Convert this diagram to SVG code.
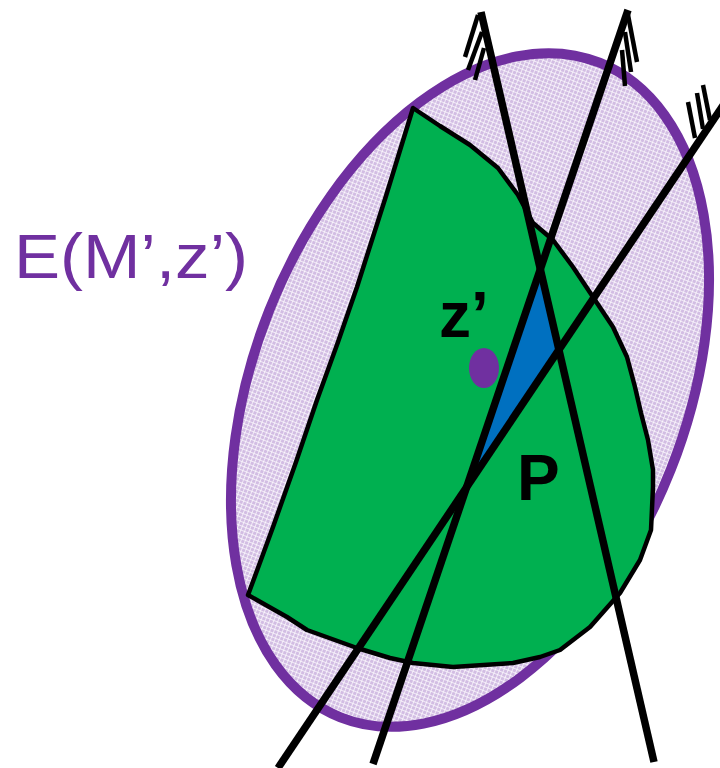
<svg xmlns="http://www.w3.org/2000/svg" width="720" height="768" viewBox="0 0 720 768">
<defs>
<pattern id="grid" width="4" height="4" patternUnits="userSpaceOnUse">
<rect width="4" height="4" fill="#d2bde3"/>
<rect width="1" height="4" fill="#ffffff" opacity="0.7"/>
<rect width="4" height="1" fill="#ffffff" opacity="0.7"/>
</pattern>
<style>
.ln{stroke:#000;stroke-width:7.5;fill:none;stroke-linecap:butt}
.ht{stroke:#000;stroke-width:4.5;fill:none;stroke-linecap:butt}
.big{font-family:"Liberation Sans",Arial,sans-serif;font-weight:bold;fill:#000}
</style>
</defs>
<rect width="720" height="768" fill="#ffffff"/>
<g id="ellipse-E">
<ellipse cx="470" cy="390" rx="216" ry="352" transform="rotate(21.6 470 390)" fill="url(#grid)" stroke="#7030A0" stroke-width="10"/>
</g>
<g id="region-P">
<polygon points="413,108 440,126 470,145 498,168 518,195 533,223 553,240 573,267 593,297 613,327 627,357 635,387 641,413 648,440 653,470 653,487 651,530 640,560 620,593 590,627 560,650 540,657 513,663 453,667 413,663 390,658 357,648 307,630 287,617 248,595 262,557 273,527 296,462 317,400 338,342 357,287 386,196 413,108" fill="#00B050" stroke="#000" stroke-width="4.5" stroke-linejoin="round"/>
</g>
<g id="triangle">
<polygon points="540,269 559,350 466,488" fill="#0070C0"/>
</g>
<g id="connectors">
<line class="ln" x1="481" y1="12" x2="654" y2="762"/>
<line class="ht" x1="478" y1="15" x2="465" y2="57"/>
<line class="ht" x1="482" y1="32" x2="468" y2="70"/>
<line class="ht" x1="484" y1="48" x2="475" y2="80"/>
<line class="ln" x1="628" y1="10" x2="373" y2="764"/>
<line class="ht" x1="628" y1="15" x2="637" y2="62"/>
<line class="ht" x1="625" y1="32" x2="631" y2="72"/>
<line class="ht" x1="622" y1="50" x2="625" y2="86"/>
<line class="ln" x1="724" y1="104" x2="278" y2="768"/>
<line class="ht" x1="703" y1="85" x2="710" y2="120"/>
<line class="ht" x1="697" y1="93" x2="703" y2="129"/>
<line class="ht" x1="688" y1="102" x2="695" y2="138"/>
</g>
<g id="point-z">
<ellipse cx="484" cy="368" rx="15" ry="20" fill="#7030A0"/>
</g>
<g id="labels">
<text class="big" x="439" y="337" font-size="64">z’</text>
<text class="big" x="517" y="500" font-size="64">P</text>
<text x="14" y="278" font-family="'Liberation Sans',Arial,sans-serif" font-size="63" fill="#7030A0" textLength="234" lengthAdjust="spacingAndGlyphs">E(M’,z’)</text>
</g>
</svg>
